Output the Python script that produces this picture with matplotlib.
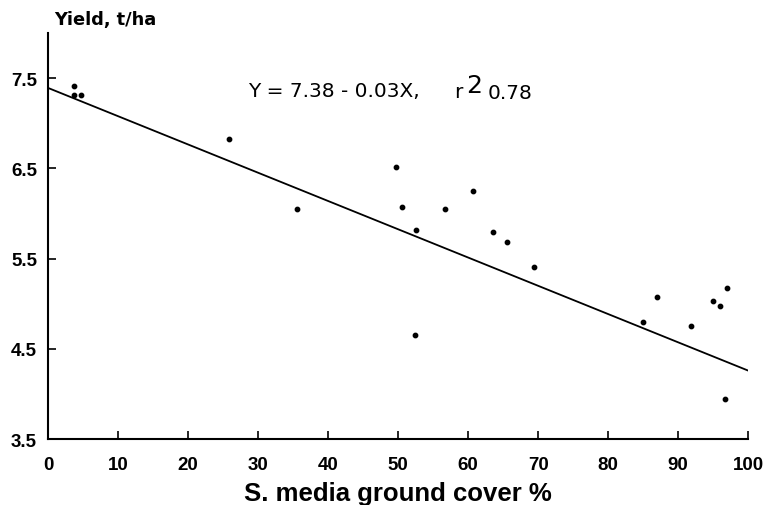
import numpy as np
import matplotlib.pyplot as plt

# ground cover (%) and yield (t/ha)
cover = [3.7, 3.7, 4.7, 25.9, 35.6, 49.7, 50.6, 52.6, 52.4, 56.7, 60.7,
         63.5, 65.5, 69.4, 85.0, 87.0, 91.9, 95.0, 96.0, 97.0, 96.7]
yld = [7.41, 7.31, 7.31, 6.82, 6.05, 6.52, 6.07, 5.82, 4.65, 6.05, 6.25,
       5.79, 5.68, 5.41, 4.80, 5.07, 4.75, 5.03, 4.97, 5.18, 3.94]

# regression line as drawn
intercept = 7.39
slope = -0.0313

xticks = [0, 10, 20, 30, 40, 50, 60, 70, 80, 90, 100]
yticks = [3.5, 4.5, 5.5, 6.5, 7.5]

fig = plt.figure(figsize=(7.65, 5.06), dpi=100)
ax = fig.add_axes([0.063, 0.130, 0.915, 0.803])

ax.scatter(cover, yld, s=10, color='black', zorder=3)
xl = np.array([0, 100])
ax.plot(xl, intercept + slope * xl, color='black', lw=1.3)

ax.set_xlim(0, 100)
ax.set_ylim(3.5, 8.0)
ax.set_xticks(xticks)
ax.set_yticks(yticks)
ax.set_xticklabels([str(t) for t in xticks], fontsize=13.5, fontweight='bold',
                   family='Liberation Sans')
ax.set_yticklabels([f'{t:.1f}' for t in yticks], fontsize=13.5, fontweight='bold',
                   family='Liberation Sans')
ax.tick_params(axis='x', direction='in', length=6, width=1.2, pad=12)
ax.tick_params(axis='y', direction='in', length=6, width=1.2, pad=8)
for s in ['top', 'right']:
    ax.spines[s].set_visible(False)
for s in ['left', 'bottom']:
    ax.spines[s].set_linewidth(1.5)

ax.set_xlabel('S. media ground cover %', fontsize=18.5, fontweight='bold',
              family='Liberation Sans', labelpad=6)
fig.text(0.071, 0.960, 'Yield, t/ha', fontsize=12.8, fontweight='bold',
         family='DejaVu Sans', ha='left', va='center')

# equation
fs = 14.5
fig.text(0.324, 0.808, 'Y = 7.38 - 0.03X,', fontsize=fs, family='DejaVu Sans',
         ha='left', va='baseline')
fig.text(0.594, 0.806, 'r', fontsize=fs, family='DejaVu Sans',
         ha='left', va='baseline')
fig.text(0.609, 0.817, '2', fontsize=18, family='DejaVu Sans',
         ha='left', va='baseline')
fig.text(0.638, 0.804, '0.78', fontsize=fs, family='DejaVu Sans',
         ha='left', va='baseline')

fig.savefig('out.png', dpi=100)
